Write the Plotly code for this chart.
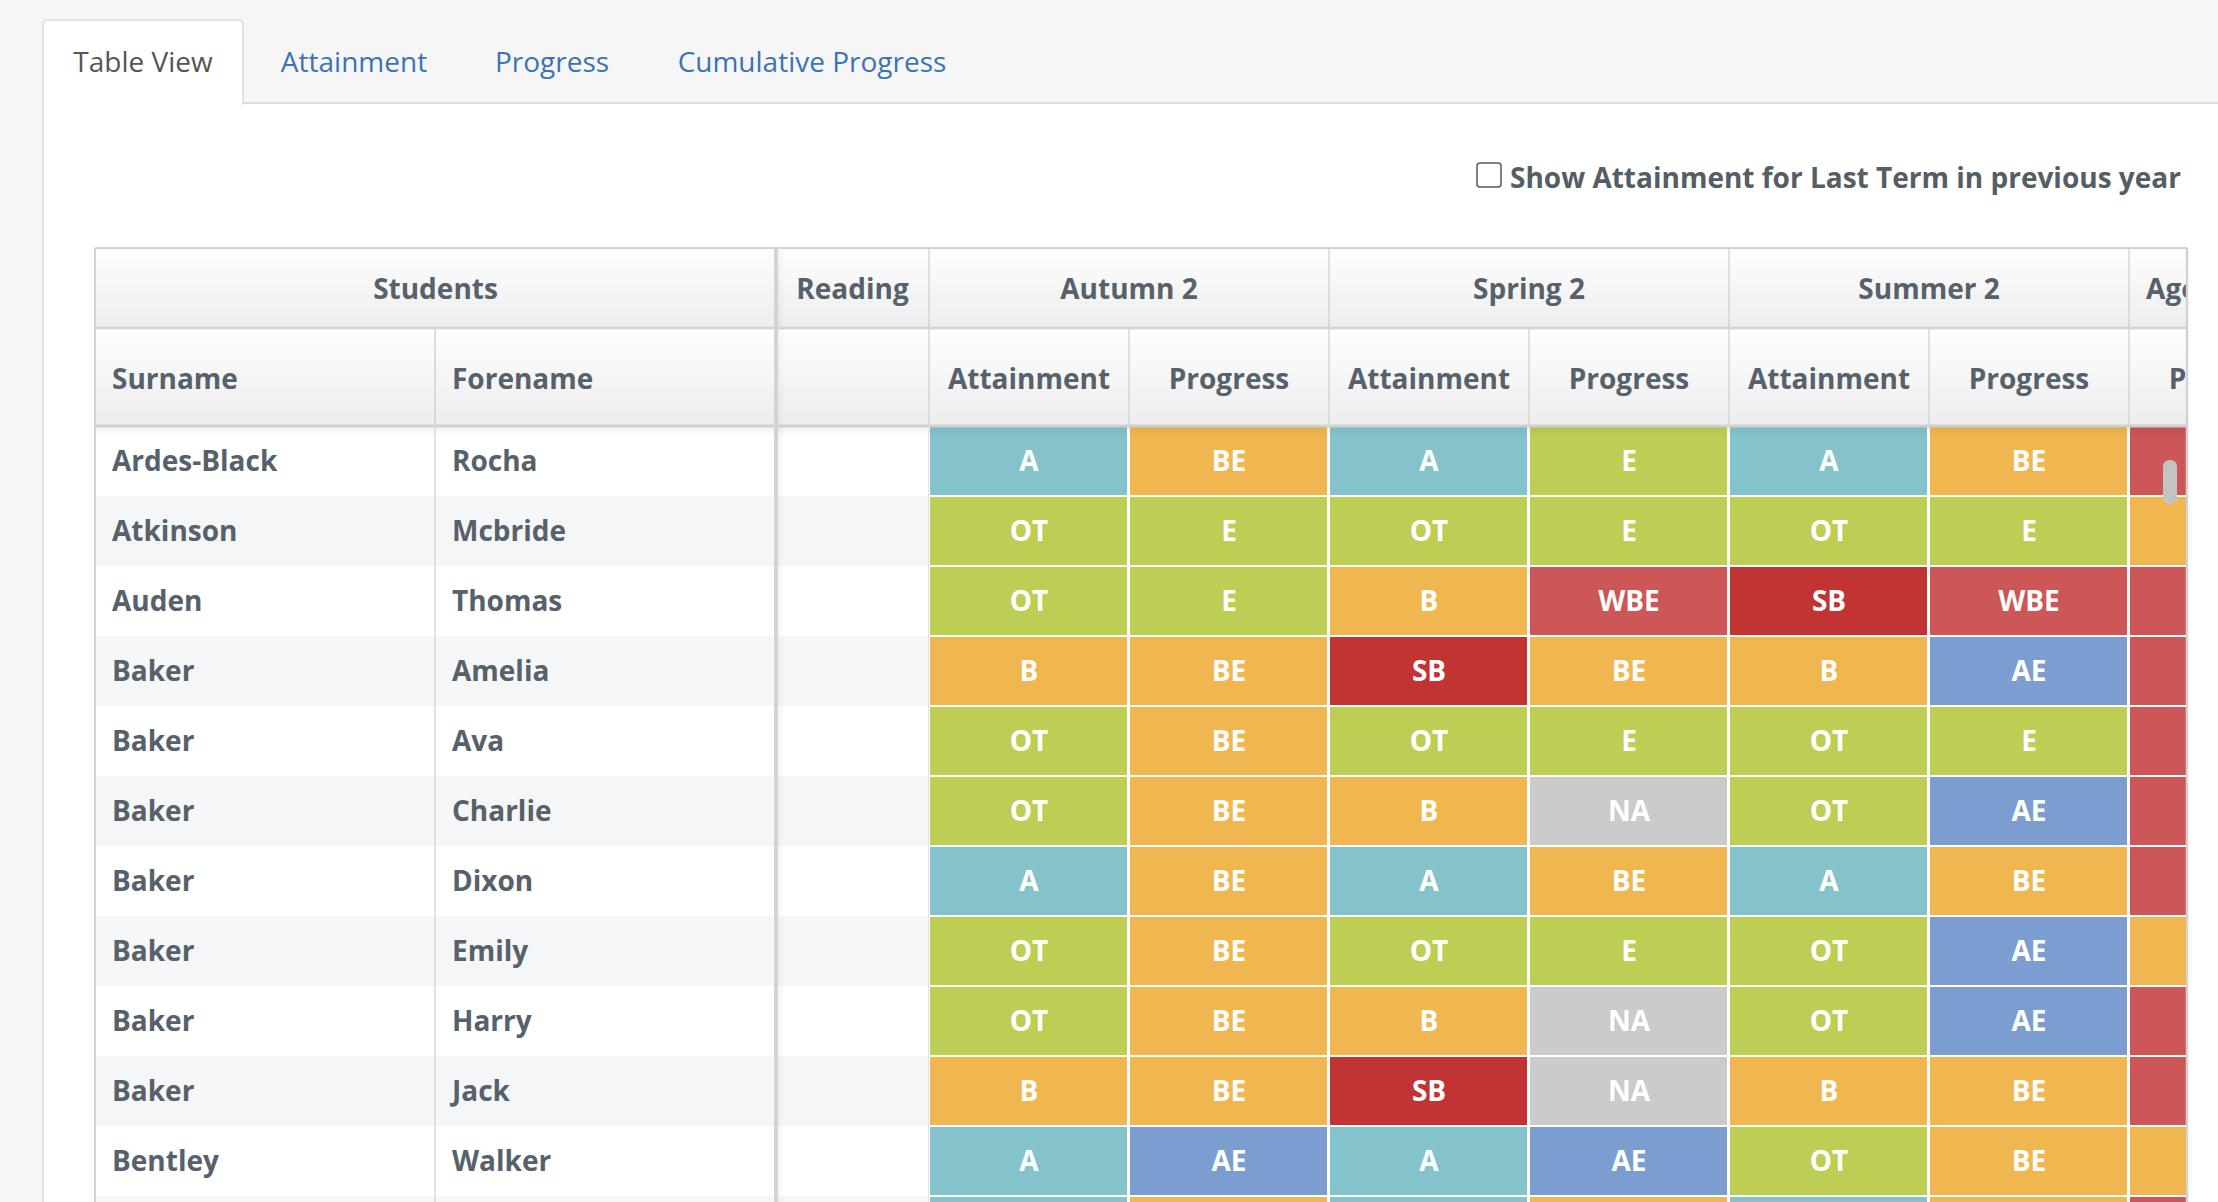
"""
Student tracking grid (Table View) rebuilt as a Plotly figure.
Run: python plot.py  -> out.html
"""

import plotly.graph_objects as go

W, H = 2218, 1202
FONT = "Open Sans, Noto Sans, sans-serif"

# --- Data ---
tabs = ["Table View", "Attainment", "Progress", "Cumulative Progress"]
checkbox_label = "Show Attainment for Last Term in previous year"

surnames = ["Ardes-Black", "Atkinson", "Auden", "Baker", "Baker", "Baker",
            "Baker", "Baker", "Baker", "Baker", "Bentley", ""]
forenames = ["Rocha", "Mcbride", "Thomas", "Amelia", "Ava", "Charlie",
             "Dixon", "Emily", "Harry", "Jack", "Walker", ""]

group_headers = ["Students", "Reading", "Autumn 2", "Spring 2", "Summer 2", "Age Related"]
sub_headers = ["Attainment", "Progress", "Attainment", "Progress",
               "Attainment", "Progress", "Progress"]

autumn_att = ["A", "OT", "OT", "B", "OT", "OT", "A", "OT", "OT", "B", "A", "A"]
autumn_prog = ["BE", "E", "E", "BE", "BE", "BE", "BE", "BE", "BE", "BE", "AE", "BE"]
spring_att = ["A", "OT", "B", "SB", "OT", "B", "A", "OT", "B", "SB", "A", "A"]
spring_prog = ["E", "E", "WBE", "BE", "E", "NA", "BE", "E", "NA", "NA", "AE", "BE"]
summer_att = ["A", "OT", "SB", "B", "OT", "OT", "A", "OT", "OT", "B", "OT", "A"]
summer_prog = ["BE", "E", "WBE", "AE", "E", "AE", "BE", "AE", "AE", "BE", "BE", "BE"]
age_prog = ["WBE", "BE", "WBE", "WBE", "WBE", "WBE", "WBE", "BE", "WBE", "WBE", "BE", "WBE"]

grade_colors = {
    "A": "#84c3cb", "B": "#f0b750", "BE": "#f0b750", "E": "#bece55",
    "OT": "#bece55", "WBE": "#cc5658", "SB": "#c23434", "AE": "#7b9dd0",
    "NA": "#cbcbcb",
}

# --- Layout geometry (pixels) ---
TABLE_L, TABLE_R = 95, 2187
HEAD_TOP, HEAD_MID, HEAD_BOT = 248, 328, 426
ROW_H = 70
col_edges = [95, 435, 776, 929, 1129, 1329, 1529, 1729, 1929, 2129, 2329]
grade_edges = col_edges[3:]
PAD = 17
DY = 3  # text baseline nudge

TEXT = "#56616b"
LINE = "#d6d6d6"

n_rows = len(surnames)
row_edges = [HEAD_BOT + ROW_H * i for i in range(n_rows + 1)]
row_mid = [HEAD_BOT + ROW_H * i + ROW_H / 2 for i in range(n_rows)]

grade_cols = [autumn_att, autumn_prog, spring_att, spring_prog,
              summer_att, summer_prog, age_prog]
palette = list(dict.fromkeys(grade_colors.values()))
n_col = len(palette)
colorscale = []
for i, c in enumerate(palette):
    colorscale += [[i / n_col, c], [(i + 1) / n_col, c]]

z = [[palette.index(grade_colors[col[r]]) for col in grade_cols] for r in range(n_rows)]
col_mid = [(grade_edges[i] + grade_edges[i + 1]) / 2 for i in range(len(grade_cols))]

# only label cells whose centre is inside the visible (scrolled) window
vis_cols = [j for j in range(len(grade_cols)) if col_mid[j] < TABLE_R]
vis_rows = [r for r in range(n_rows) if row_mid[r] < H]

fig = go.Figure()

# tabs (main pixel axes)
tab_x = [143, 354, 552, 812]
fig.add_trace(go.Scatter(
    x=tab_x, y=[65] * len(tabs), mode="text", text=tabs,
    textfont=dict(family=FONT, size=28, color=["#555555", "#3b73b6", "#3b73b6", "#3b73b6"]),
    hoverinfo="skip", showlegend=False, xaxis="x", yaxis="y",
))

# striped background of the name columns
fig.add_trace(go.Heatmap(
    x=[col_edges[0], col_edges[3]], y=row_edges,
    z=[[r % 2] for r in range(n_rows)],
    colorscale=[[0, "#ffffff"], [1, "#f5f6f8"]], zmin=0, zmax=1,
    showscale=False, hoverinfo="skip", xaxis="x2", yaxis="y2",
))

# grade cells
fig.add_trace(go.Heatmap(
    x=grade_edges, y=row_edges, z=z,
    colorscale=colorscale, zmin=0, zmax=n_col, xgap=3, ygap=2,
    showscale=False, hoverinfo="skip", xaxis="x2", yaxis="y2",
))

# grade labels
fig.add_trace(go.Scatter(
    x=[col_mid[j] for r in vis_rows for j in vis_cols],
    y=[row_mid[r] + DY for r in vis_rows for j in vis_cols],
    text=[grade_cols[j][r] for r in vis_rows for j in vis_cols],
    mode="text", cliponaxis=True,
    textfont=dict(family=FONT, size=28, color="white", weight="bold"),
    hoverinfo="skip", showlegend=False, xaxis="x2", yaxis="y2",
))

# names
fig.add_trace(go.Scatter(
    x=[col_edges[0] + PAD] * len(vis_rows) + [col_edges[1] + PAD] * len(vis_rows),
    y=[row_mid[r] + DY for r in vis_rows] * 2,
    text=[surnames[r] for r in vis_rows] + [forenames[r] for r in vis_rows],
    mode="text", textposition="middle right", cliponaxis=True,
    textfont=dict(family=FONT, size=28, color=TEXT, weight="bold"),
    hoverinfo="skip", showlegend=False, xaxis="x2", yaxis="y2",
))

# header row 1 (group names) and row 2 (sub columns)
g_spans = [(col_edges[0], col_edges[2]), (col_edges[2], col_edges[3])]
for k in range(3):
    g_spans.append((grade_edges[2 * k], grade_edges[2 * k + 2]))
g_spans.append((grade_edges[6], grade_edges[7]))
h1_x = [(a + b) / 2 for a, b in g_spans]
h1_y = (HEAD_TOP + HEAD_MID) / 2 + DY + 1
h2_y = (HEAD_MID + HEAD_BOT) / 2 + DY + 2
fig.add_trace(go.Scatter(
    x=h1_x + col_mid,
    y=[h1_y] * len(h1_x) + [h2_y] * len(col_mid),
    text=group_headers + sub_headers, mode="text",
    textfont=dict(family=FONT, size=28, color=TEXT, weight="bold"),
    hoverinfo="skip", showlegend=False, xaxis="x2", yaxis="y2", cliponaxis=True,
))
fig.add_trace(go.Scatter(
    x=[col_edges[0] + PAD, col_edges[1] + PAD],
    y=[h2_y] * 2,
    text=["Surname", "Forename"], mode="text", textposition="middle right",
    textfont=dict(family=FONT, size=28, color=TEXT, weight="bold"),
    hoverinfo="skip", showlegend=False, xaxis="x2", yaxis="y2",
))

shapes = []


def rect(x0, y0, x1, y1, fill, layer="below", line=None):
    shapes.append(dict(type="rect", xref="x", yref="y", x0=x0, y0=y0, x1=x1, y1=y1,
                       fillcolor=fill, layer=layer,
                       line=line or dict(width=0)))


def seg(x0, y0, x1, y1, color=LINE, width=1.5, layer="above"):
    shapes.append(dict(type="line", xref="x", yref="y", x0=x0, y0=y0, x1=x1, y1=y1,
                       layer=layer, line=dict(color=color, width=width)))


def mix(c1, c2, t):
    a = [int(c1[i:i + 2], 16) for i in (1, 3, 5)]
    b = [int(c2[i:i + 2], 16) for i in (1, 3, 5)]
    return "#%02x%02x%02x" % tuple(round(a[i] + (b[i] - a[i]) * t) for i in range(3))


# page: white panel below the tab bar
rect(43, 103, W + 5, H + 5, "#ffffff")
# active tab
shapes.append(dict(type="path", xref="x", yref="y", layer="below",
                   path="M 43,104 L 43,25 Q 43,20 48,20 L 238,20 Q 243,20 243,25 L 243,104 Z",
                   fillcolor="#ffffff", line=dict(color="#dcdcdc", width=1.5)))
rect(44, 100, 242, 106, "#ffffff")
seg(243, 103, W + 5, 103, "#dcdcdc", 2, "below")
seg(43, 104, 43, H + 5, "#dcdcdc", 1.5, "below")

# header gradient bands
for top, bot in [(HEAD_TOP, HEAD_MID), (HEAD_MID, HEAD_BOT)]:
    n = 12
    for i in range(n):
        y0 = top + (bot - top) * i / n
        y1 = top + (bot - top) * (i + 1) / n
        rect(TABLE_L, y0, TABLE_R, y1 + 0.5, mix("#fdfdfd", "#eeeeee", i / (n - 1)))

# shadow under header and right of the frozen columns
for i in range(6):
    rect(TABLE_L, HEAD_BOT + 1 + i * 1.5, TABLE_R, HEAD_BOT + 2.5 + i * 1.5,
         "rgba(0,0,0,%.3f)" % (0.05 * (1 - i / 6)), layer="above")
    rect(col_edges[2] + 2 + i, HEAD_TOP, col_edges[2] + 3 + i, H + 5,
         "rgba(0,0,0,%.3f)" % (0.035 * (1 - i / 6)), layer="above")

# header grid
seg(TABLE_L, HEAD_TOP, TABLE_R, HEAD_TOP, "#d2d2d2", 2)
seg(TABLE_L, HEAD_MID, TABLE_R, HEAD_MID, "#d4d4d4", 2.5)
seg(TABLE_L, HEAD_BOT, TABLE_R, HEAD_BOT, "#d0d0d0", 3)
for x in [col_edges[3], grade_edges[2], grade_edges[4], grade_edges[6]]:
    seg(x, HEAD_TOP, x, HEAD_BOT)
for x in [col_edges[1], grade_edges[1], grade_edges[3], grade_edges[5]]:
    seg(x, HEAD_MID, x, HEAD_BOT)

# body verticals in the name area
seg(col_edges[1], HEAD_MID, col_edges[1], H + 5, "#dadada", 1.5)
seg(col_edges[3] - 0.5, HEAD_BOT, col_edges[3] - 0.5, H + 5, "#e2e2e2", 1)
seg(col_edges[2], HEAD_TOP, col_edges[2], H + 5, "#d3d3d3", 4)
seg(TABLE_L, HEAD_TOP, TABLE_L, H + 5, "#d2d2d2", 2)
seg(TABLE_R, HEAD_TOP, TABLE_R, H + 5, "#d2d2d2", 2.5)

# checkbox
shapes.append(dict(type="path", xref="x", yref="y", layer="above",
                   path="M 1480,163 L 1498,163 Q 1501,163 1501,166 L 1501,184 Q 1501,187 1498,187 "
                        "L 1480,187 Q 1477,187 1477,184 L 1477,166 Q 1477,163 1480,163 Z",
                   fillcolor="#ffffff", line=dict(color="#555a60", width=1.5)))

# scrollbar thumb
shapes.append(dict(type="path", xref="x", yref="y", layer="above",
                   path="M 2163,467 Q 2163,460 2170,460 Q 2177,460 2177,467 L 2177,497 "
                        "Q 2177,504 2170,504 Q 2163,504 2163,497 Z",
                   fillcolor="#c3c3c3", line=dict(width=0)))

fig.add_annotation(x=1508, y=177, xref="x", yref="y", text=checkbox_label,
                   showarrow=False, xanchor="left", yanchor="middle",
                   font=dict(family=FONT, size=28, color="#555d65", weight="bold"))

fig.update_layout(
    width=W, height=H,
    margin=dict(l=0, r=0, t=0, b=0, pad=0),
    paper_bgcolor="#f6f6f6",
    plot_bgcolor="rgba(0,0,0,0)",
    showlegend=False,
    shapes=shapes,
    xaxis=dict(domain=[0, 1], range=[0, W], visible=False, fixedrange=True),
    yaxis=dict(domain=[0, 1], range=[H, 0], visible=False, fixedrange=True),
    xaxis2=dict(domain=[TABLE_L / W, TABLE_R / W], range=[TABLE_L, TABLE_R],
                visible=False, fixedrange=True, anchor="y2"),
    yaxis2=dict(domain=[0, 1 - HEAD_TOP / H], range=[H, HEAD_TOP],
                visible=False, fixedrange=True, anchor="x2"),
)

fig.write_html("out.html", config={"displayModeBar": False},
               post_script="document.body.style.margin='0';document.body.style.overflow='hidden';")
